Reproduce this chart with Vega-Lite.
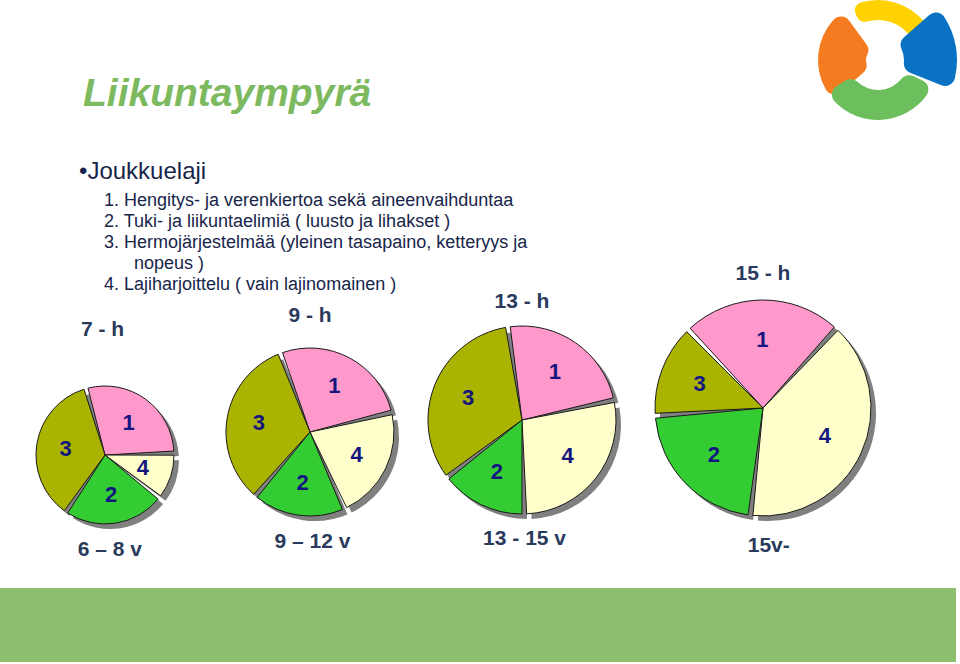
{
  "$schema": "https://vega.github.io/schema/vega-lite/v6.json",
  "background": "white",
  "padding": 0,
  "autosize": {"type": "pad"},
  "columns": 4,
  "align": "each",
  "bounds": "flush",
  "spacing": 0,
  "resolve": {"scale": {"theta": "independent"}},
  "config": {"view": {"stroke": null}, "font": "Liberation Sans"},
  "datasets": {
    "pies": [
      {"group": "7 - h", "slice": "1", "ord": 1, "share": 29},
      {"group": "7 - h", "slice": "4", "ord": 2, "share": 11},
      {"group": "7 - h", "slice": "2", "ord": 3, "share": 24},
      {"group": "7 - h", "slice": "3", "ord": 4, "share": 36},
      {"group": "9 - h", "slice": "1", "ord": 1, "share": 27},
      {"group": "9 - h", "slice": "4", "ord": 2, "share": 22},
      {"group": "9 - h", "slice": "2", "ord": 3, "share": 18},
      {"group": "9 - h", "slice": "3", "ord": 4, "share": 33},
      {"group": "13 - h", "slice": "1", "ord": 1, "share": 24},
      {"group": "13 - h", "slice": "4", "ord": 2, "share": 28},
      {"group": "13 - h", "slice": "2", "ord": 3, "share": 15},
      {"group": "13 - h", "slice": "3", "ord": 4, "share": 33},
      {"group": "15 - h", "slice": "1", "ord": 1, "share": 24},
      {"group": "15 - h", "slice": "4", "ord": 2, "share": 40},
      {"group": "15 - h", "slice": "2", "ord": 3, "share": 22},
      {"group": "15 - h", "slice": "3", "ord": 4, "share": 14}
    ],
    "labels": [
      {"group": "7 - h", "age": "6 – 8 v"},
      {"group": "9 - h", "age": "9 – 12 v"},
      {"group": "13 - h", "age": "13 - 15 v"},
      {"group": "15 - h", "age": "15v-"}
    ]
  },
  "concat": [
    {
      "width": 210,
      "height": 130,
      "data": {"values": [{}]},
      "mark": {"type": "rect", "opacity": 0},
      "encoding": {},
      "title": {
        "text": "Liikuntaympyrä",
        "orient": "bottom",
        "frame": "group",
        "anchor": "start",
        "offset": -55,
        "dx": 83,
        "font": "Liberation Sans",
        "fontSize": 39,
        "fontStyle": "italic",
        "fontWeight": "bold",
        "color": "#7db95f"
      }
    },
    {"width": 200, "height": 130, "data": {"values": [{}]}, "mark": {"type": "rect", "opacity": 0}, "encoding": {}},
    {"width": 224, "height": 130, "data": {"values": [{}]}, "mark": {"type": "rect", "opacity": 0}, "encoding": {}},
    {
      "width": 326,
      "height": 120,
      "data": {"values": [{}]},
      "encoding": {},
      "layer": [
        {"mark": {"type": "arc", "theta": -0.45, "theta2": 1.05, "innerRadius": 40, "outerRadius": 60, "cornerRadius": 8, "color": "#ffd200", "xOffset": 81}},
        {"mark": {"type": "arc", "theta": 4.0, "theta2": 5.65, "innerRadius": 12, "outerRadius": 60, "cornerRadius": 10, "color": "#f47b20", "xOffset": 81}},
        {"mark": {"type": "arc", "theta": 0.85, "theta2": 1.95, "innerRadius": 26, "outerRadius": 79, "cornerRadius": 10, "color": "#0a72c2", "xOffset": 81}},
        {"mark": {"type": "arc", "theta": 2.0, "theta2": 4.15, "innerRadius": 30, "outerRadius": 60, "cornerRadius": 10, "color": "#6cbf5c", "xOffset": 81}}
      ]
    },
    {
      "width": 210,
      "height": 192,
      "data": {"values": [{}]},
      "mark": {"type": "rect", "opacity": 0},
      "encoding": {},
      "title": {
        "text": "•Joukkuelaji",
        "subtitle": [
          "\u200b\u00a0\u00a0\u00a0\u00a0\u00a01. Hengitys- ja verenkiertoa sekä aineenvaihduntaa",
          "\u200b\u00a0\u00a0\u00a0\u00a0\u00a02. Tuki- ja liikuntaelimiä ( luusto ja lihakset )",
          "\u200b\u00a0\u00a0\u00a0\u00a0\u00a03. Hermojärjestelmää (yleinen tasapaino, ketteryys ja",
          "\u200b\u00a0\u00a0\u00a0\u00a0\u00a0\u00a0\u00a0\u00a0\u00a0\u00a0\u00a0nopeus )",
          "\u200b\u00a0\u00a0\u00a0\u00a0\u00a04. Lajiharjoittelu ( vain lajinomainen )"
        ],
        "orient": "bottom",
        "frame": "group",
        "anchor": "start",
        "offset": -162,
        "dx": 79,
        "font": "Liberation Sans",
        "fontSize": 24,
        "fontWeight": "normal",
        "color": "#17254a",
        "subtitleFont": "Liberation Sans",
        "subtitleFontSize": 18,
        "subtitleColor": "#17254a",
        "subtitleLineHeight": 21.1,
        "subtitlePadding": 8
      }
    },
    {"width": 200, "height": 192, "data": {"values": [{}]}, "mark": {"type": "rect", "opacity": 0}, "encoding": {}},
    {"width": 224, "height": 192, "data": {"values": [{}]}, "mark": {"type": "rect", "opacity": 0}, "encoding": {}},
    {"width": 326, "height": 192, "data": {"values": [{}]}, "mark": {"type": "rect", "opacity": 0}, "encoding": {}},
    {
      "width": 210,
      "height": 266,
      "layer": [
        {
          "data": {"name": "pies"},
          "transform": [{"filter": "datum.group == '7 - h'"}],
          "encoding": {
            "theta": {"field": "share", "type": "quantitative", "stack": true, "scale": {"range": [-0.279, 6.004]}},
            "order": {"field": "ord", "type": "quantitative"},
            "detail": {"field": "slice", "type": "nominal"}
          },
          "layer": [
            {"mark": {"type": "arc", "outerRadius": 69, "padAngle": 0.06, "color": "#808080", "xOffset": 5, "yOffset": 5}},
            {"mark": {"type": "arc", "outerRadius": 69, "padAngle": 0.06, "stroke": "#1a1a1a", "strokeWidth": 1},
             "encoding": {"color": {"field": "slice", "type": "nominal", "scale": {"domain": ["1", "2", "3", "4"], "range": ["#ff99cc", "#33cc33", "#aab400", "#ffffcc"]}, "legend": null}}},
            {"mark": {"type": "text", "radius": 40, "fontSize": 22, "fontWeight": "bold", "color": "#15157f"},
             "encoding": {"text": {"field": "slice", "type": "nominal"}}}
          ]
        },
        {
          "data": {"name": "labels"},
          "transform": [{"filter": "datum.group == '7 - h'"}],
          "layer": [
            {"mark": {"type": "text", "theta": -0.02, "radius": 125, "fontSize": 21, "fontWeight": "bold", "color": "#2a3a5c"}, "encoding": {"text": {"field": "group", "type": "nominal"}}},
            {"mark": {"type": "text", "theta": 3.09, "radius": 95, "fontSize": 21, "fontWeight": "bold", "color": "#2a3a5c"}, "encoding": {"text": {"field": "age", "type": "nominal"}}}
          ]
        }
      ]
    },
    {
      "width": 200,
      "height": 220,
      "layer": [
        {
          "data": {"name": "pies"},
          "transform": [{"filter": "datum.group == '9 - h'"}],
          "encoding": {
            "theta": {"field": "share", "type": "quantitative", "stack": true, "scale": {"range": [-0.361, 5.922]}},
            "order": {"field": "ord", "type": "quantitative"},
            "detail": {"field": "slice", "type": "nominal"}
          },
          "layer": [
            {"mark": {"type": "arc", "outerRadius": 84, "padAngle": 0.055, "color": "#808080", "xOffset": 5, "yOffset": 5}},
            {"mark": {"type": "arc", "outerRadius": 84, "padAngle": 0.055, "stroke": "#1a1a1a", "strokeWidth": 1},
             "encoding": {"color": {"field": "slice", "type": "nominal", "scale": {"domain": ["1", "2", "3", "4"], "range": ["#ff99cc", "#33cc33", "#aab400", "#ffffcc"]}, "legend": null}}},
            {"mark": {"type": "text", "radius": 52, "fontSize": 22, "fontWeight": "bold", "color": "#15157f"},
             "encoding": {"text": {"field": "slice", "type": "nominal"}}}
          ]
        },
        {
          "data": {"name": "labels"},
          "transform": [{"filter": "datum.group == '9 - h'"}],
          "layer": [
            {"mark": {"type": "text", "theta": 0, "radius": 116, "fontSize": 21, "fontWeight": "bold", "color": "#2a3a5c"}, "encoding": {"text": {"field": "group", "type": "nominal"}}},
            {"mark": {"type": "text", "theta": 3.12, "radius": 110, "fontSize": 21, "fontWeight": "bold", "color": "#2a3a5c"}, "encoding": {"text": {"field": "age", "type": "nominal"}}}
          ]
        }
      ]
    },
    {
      "width": 224,
      "height": 196,
      "layer": [
        {
          "data": {"name": "pies"},
          "transform": [{"filter": "datum.group == '13 - h'"}],
          "encoding": {
            "theta": {"field": "share", "type": "quantitative", "stack": true, "scale": {"range": [-0.15, 6.133]}},
            "order": {"field": "ord", "type": "quantitative"},
            "detail": {"field": "slice", "type": "nominal"}
          },
          "layer": [
            {"mark": {"type": "arc", "outerRadius": 94, "padAngle": 0.05, "color": "#808080", "xOffset": 5, "yOffset": 5}},
            {"mark": {"type": "arc", "outerRadius": 94, "padAngle": 0.05, "stroke": "#1a1a1a", "strokeWidth": 1},
             "encoding": {"color": {"field": "slice", "type": "nominal", "scale": {"domain": ["1", "2", "3", "4"], "range": ["#ff99cc", "#33cc33", "#aab400", "#ffffcc"]}, "legend": null}}},
            {"mark": {"type": "text", "radius": 58, "fontSize": 22, "fontWeight": "bold", "color": "#15157f"},
             "encoding": {"text": {"field": "slice", "type": "nominal"}}}
          ]
        },
        {
          "data": {"name": "labels"},
          "transform": [{"filter": "datum.group == '13 - h'"}],
          "layer": [
            {"mark": {"type": "text", "theta": 0, "radius": 118, "fontSize": 21, "fontWeight": "bold", "color": "#2a3a5c"}, "encoding": {"text": {"field": "group", "type": "nominal"}}},
            {"mark": {"type": "text", "theta": 3.12, "radius": 119, "fontSize": 21, "fontWeight": "bold", "color": "#2a3a5c"}, "encoding": {"text": {"field": "age", "type": "nominal"}}}
          ]
        }
      ]
    },
    {
      "width": 258,
      "height": 172,
      "layer": [
        {
          "data": {"name": "pies"},
          "transform": [{"filter": "datum.group == '15 - h'"}],
          "encoding": {
            "theta": {"field": "share", "type": "quantitative", "stack": true, "scale": {"range": [-0.763, 5.52]}},
            "order": {"field": "ord", "type": "quantitative"},
            "detail": {"field": "slice", "type": "nominal"}
          },
          "layer": [
            {"mark": {"type": "arc", "outerRadius": 108, "padAngle": 0.045, "color": "#808080", "xOffset": 5, "yOffset": 5}},
            {"mark": {"type": "arc", "outerRadius": 108, "padAngle": 0.045, "stroke": "#1a1a1a", "strokeWidth": 1},
             "encoding": {"color": {"field": "slice", "type": "nominal", "scale": {"domain": ["1", "2", "3", "4"], "range": ["#ff99cc", "#33cc33", "#aab400", "#ffffcc"]}, "legend": null}}},
            {"mark": {"type": "text", "radius": 68, "fontSize": 22, "fontWeight": "bold", "color": "#15157f"},
             "encoding": {"text": {"field": "slice", "type": "nominal"}}}
          ]
        },
        {
          "data": {"name": "labels"},
          "transform": [{"filter": "datum.group == '15 - h'"}],
          "layer": [
            {"mark": {"type": "text", "theta": 0, "radius": 134, "fontSize": 21, "fontWeight": "bold", "color": "#2a3a5c"}, "encoding": {"text": {"field": "group", "type": "nominal"}}},
            {"mark": {"type": "text", "theta": 3.1, "radius": 138, "fontSize": 21, "fontWeight": "bold", "color": "#2a3a5c"}, "encoding": {"text": {"field": "age", "type": "nominal"}}}
          ]
        }
      ]
    },
    {"width": 210, "height": 74, "data": {"values": [{}]}, "mark": {"type": "rect", "color": "#8cc06e"}, "encoding": {}},
    {"width": 200, "height": 74, "data": {"values": [{}]}, "mark": {"type": "rect", "color": "#8cc06e"}, "encoding": {}},
    {"width": 224, "height": 74, "data": {"values": [{}]}, "mark": {"type": "rect", "color": "#8cc06e"}, "encoding": {}},
    {"width": 322, "height": 74, "data": {"values": [{}]}, "mark": {"type": "rect", "color": "#8cc06e"}, "encoding": {}}
  ]
}
